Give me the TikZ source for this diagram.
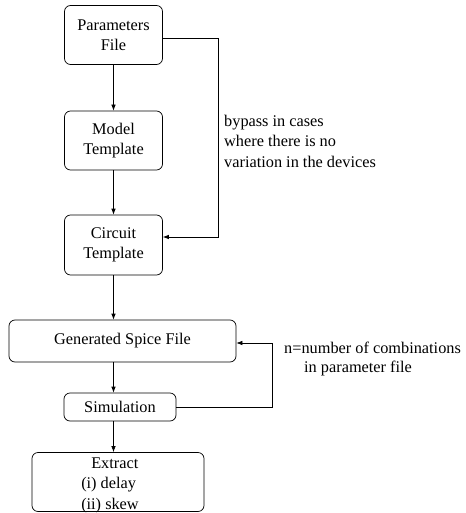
\documentclass[tikz,border=0pt]{standalone}
\usepackage{fontspec}
\setmainfont{Liberation Serif}
\usetikzlibrary{arrows.meta}
\tikzset{
  boxnode/.style={draw, line width=0.7pt, rounded corners=6pt, align=center, inner sep=0pt},
  conn/.style={line width=0.7pt, -{Latex[length=6pt,width=4.5pt]}},
  txt/.style={font=\fontsize{16.3}{20.5}\selectfont},
}
\begin{document}
\begin{tikzpicture}[x=1pt,y=-1pt, txt]
\useasboundingbox (0,0) rectangle (465,513);
\node[boxnode, minimum width=98pt, minimum height=59pt] (pf) at (113.5,35) {Parameters\\File};
\node[boxnode, minimum width=98pt, minimum height=59pt] (mt) at (113.5,140.5) {Model\\Template};
\node[boxnode, minimum width=98pt, minimum height=60pt] (ct) at (113.5,245) {Circuit\\Template};
\node[boxnode, minimum width=227pt, minimum height=42pt] (gs) at (122.5,341) {Generated Spice File};
\node[boxnode, minimum width=112pt, minimum height=28pt] (sim) at (120,407) {Simulation};
\node[boxnode, minimum width=172pt, minimum height=59pt] (ex) at (118,482) {};
\node[align=left, inner sep=0pt] (exText) at (110,485) {\hspace{10pt}Extract\\(i) delay\\(ii) skew};
\node[align=left, anchor=west, inner sep=0pt] (bypass) at (224,141) {bypass in cases\\where there is no\\variation in the devices};
\node[align=left, anchor=west, inner sep=0pt, font=\fontsize{16.3}{18.5}\selectfont] (nlabel) at (284,359) {n=number of combinations\\\hspace{20pt}in parameter file};
\coordinate (bp) at (218,38);
\coordinate (lp) at (272,407);
\draw[conn] (pf.south) -- (mt.north);
\draw[conn] (mt.south) -- (ct.north);
\draw[conn] (ct.south) -- (ct.south |- gs.north);
\draw[conn] (gs.south -| ct.south) -- (sim.north -| ct.south);
\draw[conn] (sim.south -| ct.south) -- (ex.north -| ct.south);
\draw[conn] (pf.east |- bp) -- (bp) |- ([yshift=8pt]ct.east);
\draw[conn] (sim.east) -- (lp) |- ([yshift=-2pt]gs.east);
\end{tikzpicture}
\end{document}
